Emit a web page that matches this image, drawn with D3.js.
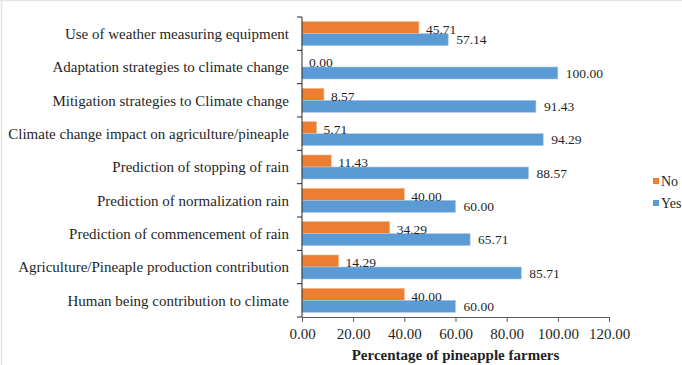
<!DOCTYPE html>
<html>
<head>
<meta charset="utf-8">
<script src="https://cdn.jsdelivr.net/npm/d3@7"></script>
<style>
  html, body { margin: 0; padding: 0; background: #fff; }
  svg { display: block; }
  text { font-family: "Liberation Serif", "Times New Roman", serif; fill: #1f1f1f; }
</style>
</head>
<body>
<svg id="chart" width="682" height="365"></svg>
<script>
// Survey items, top to bottom
const categories = [
  "Use of weather measuring equipment",
  "Adaptation strategies to climate change",
  "Mitigation strategies to Climate change",
  "Climate change impact on agriculture/pineaple",
  "Prediction of stopping of rain",
  "Prediction of normalization rain",
  "Prediction of commencement of rain",
  "Agriculture/Pineaple production contribution",
  "Human being contribution to climate"
];
const noValues  = [45.71, 0.00, 8.57, 5.71, 11.43, 40.00, 34.29, 14.29, 40.00];
const yesValues = [57.14, 100.00, 91.43, 94.29, 88.57, 60.00, 65.71, 85.71, 60.00];
const xTicks = [0, 20, 40, 60, 80, 100, 120];
const seriesNames = ["No", "Yes"];
const seriesColors = ["#ED7D31", "#5B9BD5"];
const xTitle = "Percentage of pineapple farmers";

const svg = d3.select("#chart");
const W = 682, H = 365;

// faint chart-area frame (top and left edges)
svg.append("line").attr("x1", 0).attr("x2", W).attr("y1", 0.5).attr("y2", 0.5)
  .attr("stroke", "#e3e3e3").attr("stroke-width", 1.5);
svg.append("line").attr("x1", 1.5).attr("x2", 1.5).attr("y1", 0).attr("y2", H)
  .attr("stroke", "#e3e3e3").attr("stroke-width", 1.5);

const plot = { left: 302, right: 609, top: 17, bottom: 317 };

const x = d3.scaleLinear().domain([0, 120]).range([plot.left, plot.right]);
const y = d3.scaleBand().domain(categories).range([plot.top, plot.bottom]).paddingInner(0).paddingOuter(0);
const inner = d3.scaleBand().domain(seriesNames)
  .range([0, y.bandwidth()]).paddingOuter(0.39).paddingInner(0);

const rows = categories.map((c, i) => ({ cat: c, vals: [noValues[i], yesValues[i]] }));

const groups = svg.append("g").selectAll("g.row").data(rows).join("g")
  .attr("class", "row")
  .attr("transform", d => `translate(0,${y(d.cat)})`);

groups.selectAll("rect").data(d => d.vals.map((v, k) => ({ v, k })))
  .join("rect")
  .attr("x", x(0))
  .attr("y", d => inner(seriesNames[d.k]))
  .attr("width", d => x(d.v) - x(0))
  .attr("height", inner.bandwidth())
  .attr("fill", d => seriesColors[d.k])
  .attr("stroke", d => d.k === 1 ? "#a9c8ea" : "#f6b88d")
  .attr("stroke-width", 0.6);

groups.selectAll("text.val").data(d => d.vals.map((v, k) => ({ v, k })))
  .join("text")
  .attr("class", "val")
  .attr("x", d => x(d.v) + (d.k === 1 ? 8 : 7))
  .attr("y", d => inner(seriesNames[d.k]) + inner.bandwidth() / 2 + (d.k === 0 ? 1.5 : 0))
  .attr("dy", "0.35em")
  .attr("font-size", 13.5)
  .text(d => d3.format(".2f")(d.v));

// Category axis
const yAxis = svg.append("g")
  .attr("transform", `translate(${plot.left},0)`);
yAxis.append("line").attr("x1", 0).attr("x2", 0).attr("y1", plot.top).attr("y2", plot.bottom)
  .attr("stroke", "#262626").attr("stroke-width", 1);
const bounds = d3.range(categories.length + 1).map(i => plot.top + i * y.step());
yAxis.selectAll("line.tick").data(bounds).join("line").attr("class", "tick")
  .attr("x1", -5).attr("x2", 0).attr("y1", d => d).attr("y2", d => d)
  .attr("stroke", "#262626");
yAxis.selectAll("text").data(categories).join("text")
  .attr("x", -13)
  .attr("y", d => y(d) + y.bandwidth() / 2)
  .attr("dy", "0.35em")
  .attr("text-anchor", "end")
  .attr("font-size", 15)
  .text(d => d);

// Value axis
const xAxis = svg.append("g")
  .attr("transform", `translate(0,${plot.bottom})`)
  .call(d3.axisBottom(x).tickValues(xTicks).tickFormat(d3.format(".2f")).tickSize(5).tickSizeOuter(0));
xAxis.select(".domain").attr("stroke", "#595959");
xAxis.selectAll(".tick line").attr("stroke", "#595959");
xAxis.selectAll(".tick text")
  .attr("font-family", "Liberation Serif, Times New Roman, serif")
  .attr("font-size", 15).attr("fill", "#1f1f1f").attr("dy", "0.95em");

svg.append("text")
  .attr("x", (plot.left + plot.right) / 2)
  .attr("y", 360)
  .attr("text-anchor", "middle")
  .attr("font-size", 15)
  .attr("font-weight", "bold")
  .text(xTitle);

// Legend
const legend = svg.append("g");
seriesNames.forEach((name, k) => {
  const ly = 181 + k * 22;
  legend.append("rect").attr("x", 653).attr("y", ly - 3).attr("width", 6).attr("height", 6)
    .attr("fill", seriesColors[k]);
  legend.append("text").attr("x", 661).attr("y", ly).attr("dy", "0.35em")
    .attr("font-size", 14).text(name);
});
</script>
</body>
</html>
